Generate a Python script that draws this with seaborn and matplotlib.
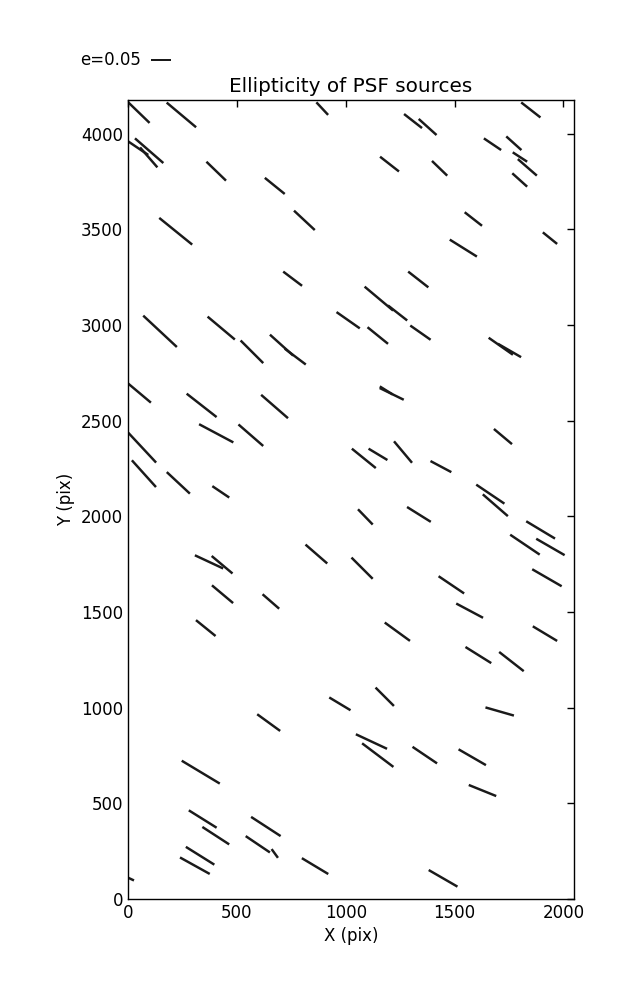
import numpy as np
import matplotlib
matplotlib.use('Agg')
import matplotlib.pyplot as plt
import seaborn as sns

# PSF star positions on the CCD (pix), ellipticity and whisker angle (deg)
x_pix = [50, 245, 892, 97, 47, 95, 405, 674, 810, 219, 756,
         1309, 1376, 1850, 1674, 1772, 1800, 1834, 1799, 1201, 1431, 1586,
         1938, 1540, 1333, 1152, 1238,
         147, 428, 569, 705, 768, 1011, 53, 338, 673, 405, 564, 65, 73, 231, 426,
         1147, 1343, 1712, 1752, 1211, 1186, 1722, 1083, 1148, 1263, 1437, 1664, 1687,
         372, 432, 865, 434, 656, 357,
         1090, 1336, 1895, 1823, 1940, 1075, 1485, 1924, 1569, 1237, 1915, 1609, 1761, 1179,
         973, 646, 334, 343, 403, 633, 596, 674, 331, 307, 859, 14,
         1707, 1118, 1147, 1363, 1581, 1628, 1447]
y_pix = [4110, 4098, 4131, 3911, 3924, 3876, 3804, 3727, 3547, 3490, 3242,
         4066, 4035, 4124, 3945, 3950, 3878, 3824, 3758, 3841, 3819, 3554,
         3454, 3402, 3238, 3138, 3063,
         2967, 2984, 2860, 2895, 2835, 3025, 2644, 2580, 2574, 2434, 2424, 2359, 2223, 2175, 2128,
         2945, 2960, 2889, 2867, 2640, 2658, 2417, 2303, 2324, 2336, 2260, 2116, 2058,
         1762, 1747, 1803, 1593, 1555, 1416,
         1997, 2010, 1929, 1852, 1840, 1729, 1642, 1679, 1507, 1397, 1387, 1275, 1241, 1057,
         1020, 922, 663, 418, 331, 379, 286, 238, 226, 174, 172, 104,
         980, 823, 752, 752, 741, 567, 108]
ellip = [0.074, 0.096, 0.043, 0.094, 0.060, 0.066, 0.068, 0.064, 0.071, 0.106, 0.059,
         0.057, 0.060, 0.061, 0.052, 0.051, 0.043, 0.063, 0.050, 0.060, 0.053, 0.055,
         0.046, 0.080, 0.064, 0.093, 0.061,
         0.115, 0.089, 0.080, 0.078, 0.066, 0.071, 0.074, 0.095, 0.089, 0.097, 0.082,
         0.102, 0.090, 0.079, 0.051,
         0.066, 0.062, 0.074, 0.067, 0.067, 0.038, 0.059, 0.077, 0.055, 0.070, 0.059, 0.085, 0.083,
         0.078, 0.068, 0.072, 0.069, 0.055, 0.063,
         0.053, 0.070, 0.084, 0.089, 0.082, 0.075, 0.077, 0.085, 0.076, 0.078, 0.071, 0.076,
         0.078, 0.065,
         0.062, 0.071, 0.111, 0.082, 0.080, 0.088, 0.073, 0.027, 0.084, 0.085, 0.077, 0.016,
         0.074, 0.086, 0.098, 0.074, 0.079, 0.074, 0.083]
theta = [-44, -40, -47, -41, -34, -49, -44, -39, -43, -39, -37,
         -38, -42, -38, -34, -42, -33, -41, -42, -38, -44, -38,
         -39, -32, -38, -40, -38,
         -43, -40, -45, -42, -37, -35, -40, -38, -41, -28, -41, -47, -48, -43, -34,
         -39, -35, -35, -30, -26, -32, -40, -39, -31, -50, -28, -34, -41,
         -25, -40, -41, -40, -41, -39,
         -46, -32, -31, -34, -30, -45, -34, -30, -28, -36, -31, -32, -38, -45,
         -31, -36, -31, -32, -33, -33, -34, -54, -32, -29, -31, -25,
         -16, -25, -37, -34, -30, -22, -30]

sns.set_theme(style='white', rc={'axes.edgecolor': 'black', 'axes.linewidth': 1.0,
                                 'text.color': 'black', 'axes.labelcolor': 'black',
                                 'xtick.color': 'black', 'ytick.color': 'black'})
plt.rcParams['font.family'] = ['DejaVu Sans']

e = np.array(ellip)
t = np.deg2rad(theta)
u = e * np.cos(t)
v = e * np.sin(t)

fig = plt.figure(figsize=(6.37, 10), dpi=100)
ax = fig.add_axes([0.201, 0.101, 0.700, 0.799])

# headless arrows -> whiskers, 0.05 ellipticity = 0.2 inch
q = ax.quiver(x_pix, y_pix, u, v, pivot='middle', color='k',
              headwidth=0, headlength=0, headaxislength=0,
              scale=0.25, scale_units='inches', width=0.0055)
ax.quiverkey(q, 0.237, 0.94, 0.05, 'e=0.05', labelpos='W',
             coordinates='figure', fontproperties={'size': 12})

ax.set_xlim(0, 2048)
ax.set_ylim(0, 4176)
ax.set_xticks([0, 500, 1000, 1500, 2000])
ax.set_yticks([0, 500, 1000, 1500, 2000, 2500, 3000, 3500, 4000])
ax.tick_params(direction='in', top=True, right=True, length=5, width=1,
               labelsize=12, colors='black')
ax.set_title('Ellipticity of PSF sources', fontsize=14.4, color='black')
ax.set_xlabel('X (pix)', fontsize=12)
ax.set_ylabel('Y (pix)', fontsize=12)

fig.savefig('out.png', dpi=100)
